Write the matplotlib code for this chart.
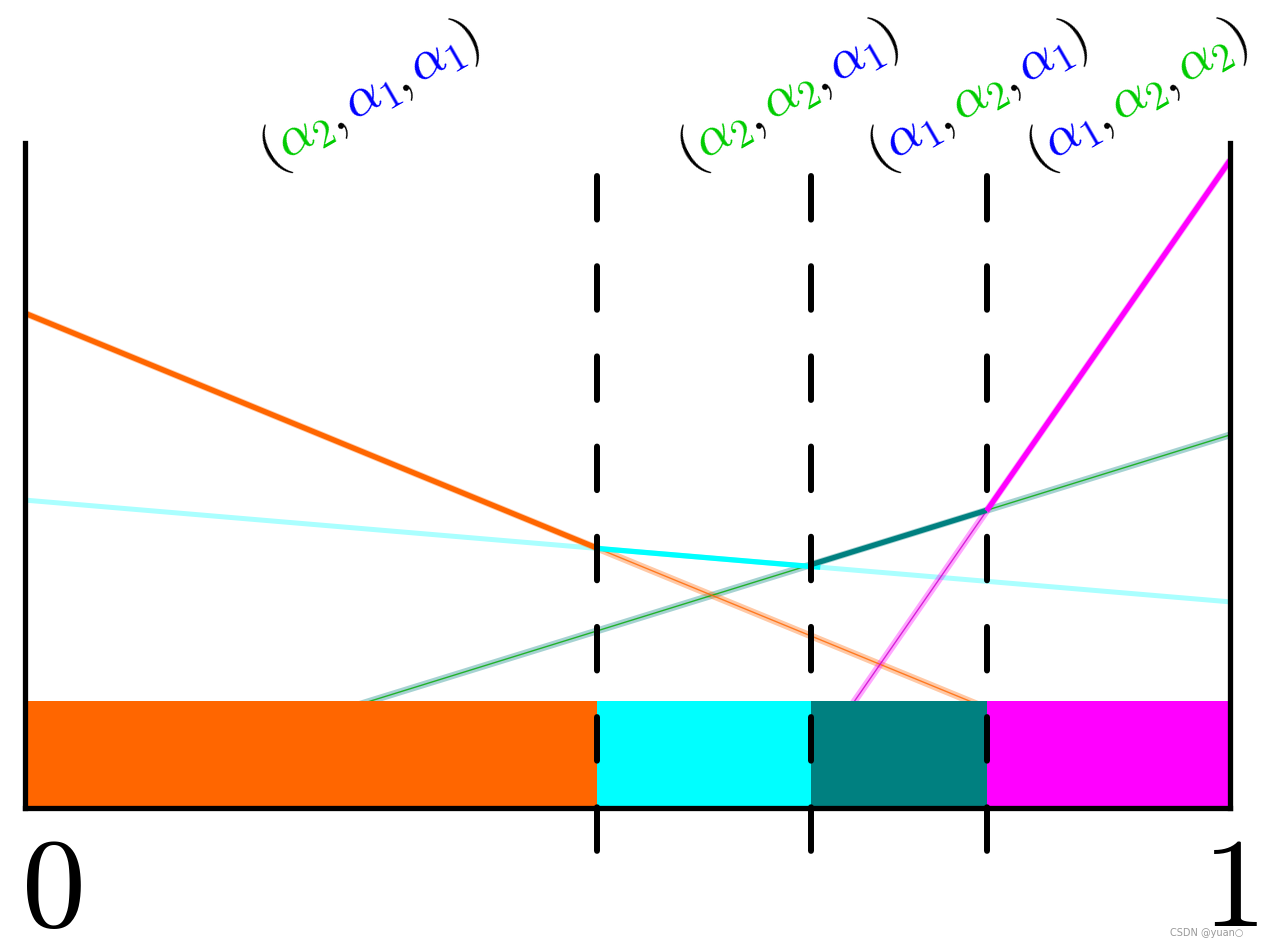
import numpy as np
import matplotlib.pyplot as plt

plt.rcParams['mathtext.fontset'] = 'cm'

# region boundaries along x (where the best action switches)
breaks = [0.0, 0.4747, 0.652, 0.798, 1.0]
region_colors = ['#ff6600', '#00ffff', '#008080', '#ff00ff']
bar_height = 0.161

# lines given by their value at x=0 and x=1
orange_y = [0.744, 0.0]
cyan_y = [0.463, 0.310]
teal_y = [0.0, 0.561]
magenta_y = [-1.636, 0.974]

# labels above each region: (text, colour) pieces
G = '#00cc00'
B = '#0000ff'
K = 'black'
labels = [
    [(r'$($', K), (r'$\alpha_2$', G), (r'$,$', K), (r'$\alpha_1$', B), (r'$,$', K), (r'$\alpha_1$', B), (r'$)$', K)],
    [(r'$($', K), (r'$\alpha_2$', G), (r'$,$', K), (r'$\alpha_2$', G), (r'$,$', K), (r'$\alpha_1$', B), (r'$)$', K)],
    [(r'$($', K), (r'$\alpha_1$', B), (r'$,$', K), (r'$\alpha_2$', G), (r'$,$', K), (r'$\alpha_1$', B), (r'$)$', K)],
    [(r'$($', K), (r'$\alpha_1$', B), (r'$,$', K), (r'$\alpha_2$', G), (r'$,$', K), (r'$\alpha_2$', G), (r'$)$', K)],
]
label_px = [(270, 170), (688, 170), (878, 170), (1037, 170)]

W, H = 1272, 949
fig = plt.figure(figsize=(W / 100, H / 100), dpi=100)
ax = fig.add_axes([25 / W, 141 / H, 1205 / W, 665 / H])
ax.set_xlim(0, 1)
ax.set_ylim(0, 1)
ax.set_xticks([])
ax.set_yticks([])
ax.spines['top'].set_visible(False)
for s in ['left', 'right', 'bottom']:
    ax.spines[s].set_linewidth(3.8)
    ax.spines[s].set_zorder(10)


def line_at(vals, x):
    return vals[0] + (vals[1] - vals[0]) * np.asarray(x)


def faint(vals, col, inner, x0=-0.005):
    xx = np.array([x0, 1.0])
    ax.plot(xx, line_at(vals, xx), color=col, lw=5, alpha=0.35, solid_capstyle='butt', zorder=2)
    ax.plot(xx, line_at(vals, xx), color=inner, lw=1.0, alpha=0.8, zorder=2.1)


def bold(vals, col, a, b):
    xx = np.array([a, b])
    ax.plot(xx, line_at(vals, xx), color=col, lw=3.8, solid_capstyle='butt', zorder=4)


# faint full lines
ax.plot([0, 1], cyan_y, color='#aaffff', lw=3.6, zorder=2)
faint(teal_y, '#008080', '#00aa00')
faint(orange_y, '#ff6600', '#ff6600')
faint(magenta_y, '#ff00ff', '#cc00cc')

# bold upper envelope pieces
bold(orange_y, '#ff6600', breaks[0], breaks[1])
bold(cyan_y, '#00ffff', breaks[1], breaks[2] + 0.008)
bold(teal_y, '#008080', breaks[2], breaks[3])
bold(magenta_y, '#ff00ff', breaks[3], breaks[4])

# coloured regions on the bottom
for i in range(4):
    ax.bar(breaks[i], bar_height, width=breaks[i + 1] - breaks[i], align='edge',
           color=region_colors[i], zorder=5, linewidth=0)

# dashed separators
for xb in breaks[1:4]:
    ax.plot([xb, xb], [0.950, -0.069], color='black', lw=4.3, linestyle=(0, (7.3, 7.8)),
            dash_capstyle='round', clip_on=False, zorder=12)

# axis end labels
fig.text(51 / W, 1 - 926 / H, r'$0$', fontsize=92, ha='center', va='baseline')
fig.text(1230 / W, 1 - 926 / H, r'$1$', fontsize=92, ha='center', va='baseline')

# rotated multi-coloured labels
renderer = fig.canvas.get_renderer()
ang = 30
fs = 40
c, s = np.cos(np.radians(ang)), np.sin(np.radians(ang))
for pieces, (px, py) in zip(labels, label_px):
    x, y = px, H - py
    for txt, col in pieces:
        t = fig.text(0, 0, txt, fontsize=fs)
        w = t.get_window_extent(renderer).width
        t.remove()
        fig.text(x / W, y / H, txt, fontsize=fs, color=col, rotation=ang,
                 rotation_mode='anchor', ha='left', va='baseline')
        if txt == r'$,$':
            w += 0.2 * fs
        x += w * c
        y += w * s

fig.text(1170 / W, 1 - 936 / H, 'CSDN @yuan\u25cb', fontsize=7, color='#999999')

fig.savefig('out.png', dpi=100)
